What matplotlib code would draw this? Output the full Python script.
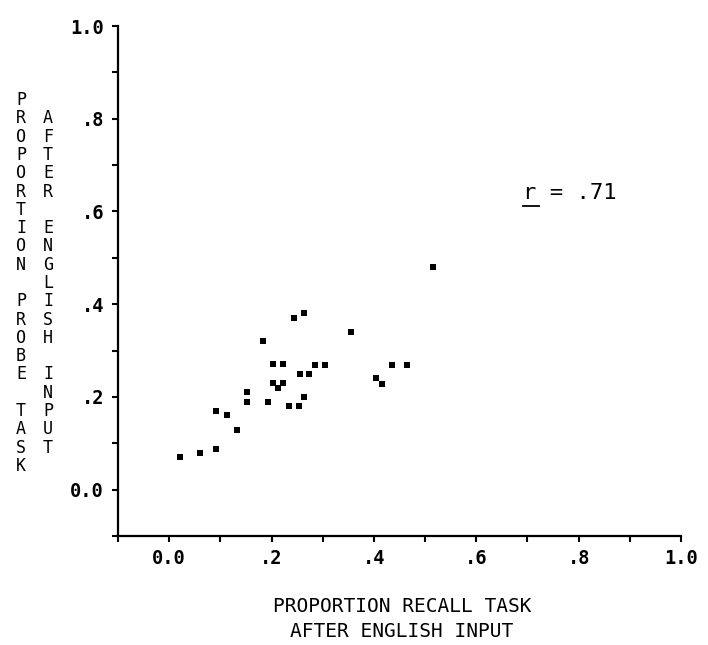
import matplotlib
matplotlib.use("Agg")
import matplotlib.pyplot as plt
from matplotlib.lines import Line2D

# proportions (recall task x, probe task y)
recall = [0.515, 0.244, 0.264, 0.355, 0.183, 0.203, 0.223, 0.285, 0.305, 0.436,
          0.465, 0.255, 0.274, 0.203, 0.223, 0.213, 0.404, 0.415, 0.153, 0.153,
          0.193, 0.234, 0.254, 0.264, 0.092, 0.113, 0.132, 0.092, 0.061, 0.021]
probe = [0.480, 0.370, 0.380, 0.341, 0.321, 0.270, 0.270, 0.269, 0.269, 0.269,
         0.269, 0.250, 0.250, 0.229, 0.229, 0.219, 0.240, 0.228, 0.210, 0.190,
         0.190, 0.180, 0.180, 0.199, 0.169, 0.160, 0.129, 0.088, 0.080, 0.070]

tick_vals = [0.0, 0.2, 0.4, 0.6, 0.8, 1.0]
tick_labels = ['0.0', '.2', '.4', '.6', '.8', '1.0']
minor_vals = [-0.1, 0.1, 0.3, 0.5, 0.7, 0.9]

xlabel = "PROPORTION RECALL TASK\nAFTER ENGLISH INPUT"
ylabel_1 = "PROPORTION PROBE TASK"
ylabel_2 = "AFTER ENGLISH INPUT"
r_text = "r = .71"

mono = 'DejaVu Sans Mono'

fig = plt.figure(figsize=(7.08, 6.45), dpi=100)
ax = fig.add_axes([118 / 708, 1 - 536 / 645, 563 / 708, 510 / 645])

ax.scatter(recall, probe, marker='s', s=20, color='black', linewidths=0)

ax.set_xlim(-0.1, 1.0)
ax.set_ylim(-0.1, 1.0)
for side in ['top', 'right']:
    ax.spines[side].set_visible(False)
for side in ['left', 'bottom']:
    ax.spines[side].set_linewidth(1.6)

ax.set_xticks(tick_vals)
ax.set_xticklabels(tick_labels)
ax.set_yticks(tick_vals)
ax.set_yticklabels(tick_labels)
ax.set_xticks(minor_vals, minor=True)
ax.set_yticks(minor_vals, minor=True)
ax.tick_params(which='both', direction='out', length=4, width=1.5)
ax.tick_params(axis='x', pad=5)
ax.tick_params(axis='y', pad=6)
for lab in ax.get_xticklabels() + ax.get_yticklabels():
    lab.set_fontfamily(mono)
    lab.set_fontsize(13.5)
    lab.set_fontweight('bold')

# stacked vertical y label, two columns
fig.text(21 / 708, 1 - 283 / 645, '\n'.join(ylabel_1), ha='center', va='center',
         family=mono, fontsize=12, linespacing=1.02)
fig.text(48 / 708, 1 - 283 / 645, '\n'.join(ylabel_2), ha='center', va='center',
         family=mono, fontsize=12, linespacing=1.02)

fig.text(402 / 708, 1 - 619 / 645, xlabel, ha='center', va='center',
         family=mono, fontsize=14, linespacing=1.45)

# correlation note, r underlined
fig.text(523 / 708, 1 - 193 / 645, r_text, ha='left', va='center',
         family=mono, fontsize=16)
fig.add_artist(Line2D([523 / 708, 539 / 708], [1 - 206 / 645, 1 - 206 / 645],
                      color='black', linewidth=1.3))

fig.savefig('out.png', dpi=100)
